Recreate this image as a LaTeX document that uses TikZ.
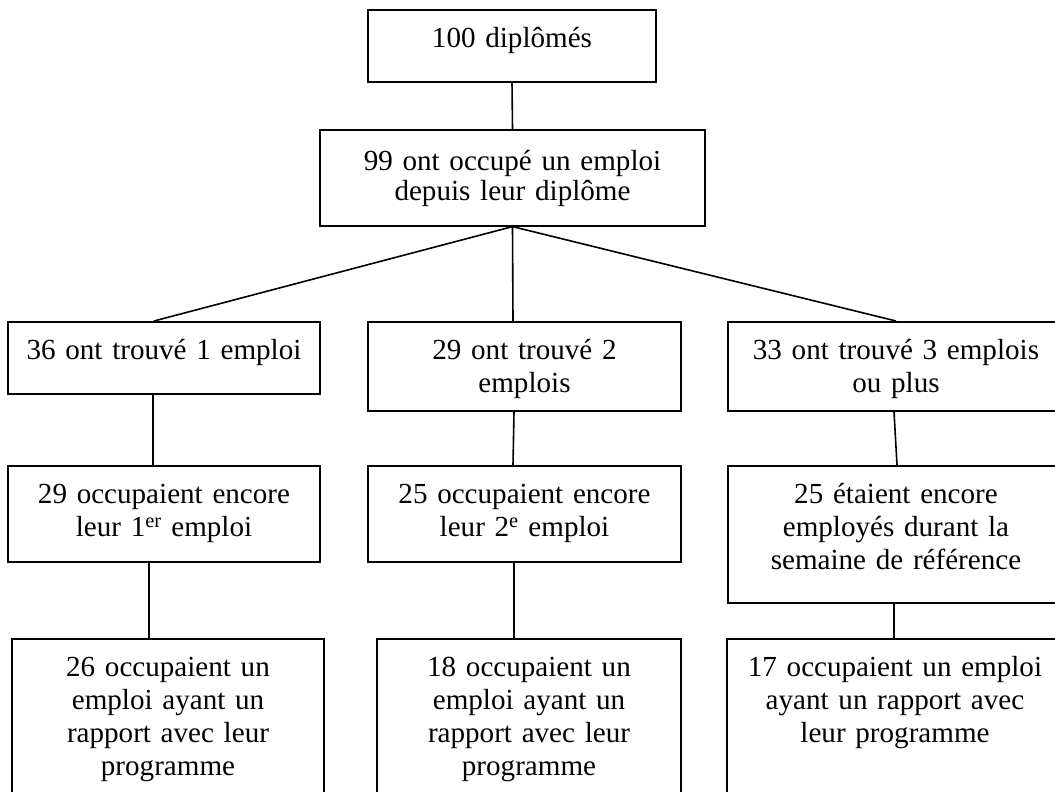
\documentclass[tikz,border=0pt]{standalone}
\usepackage{fontspec}
\setmainfont{Liberation Serif}
\usepackage{tikz}

\newcommand{\boxfont}{\fontsize{29.1}{33}\selectfont}

\begin{document}
\begin{tikzpicture}[x=1pt, y=-1pt, line width=1.6pt,
    box/.style={draw, anchor=north, inner xsep=0pt, inner ysep=0pt, align=center,
      font=\boxfont, text height=38pt}]
	\useasboundingbox (0,0) rectangle (1055,792);
	% top
	\node (dipl) [box, text width=288pt, text depth=34pt] at (512,9) {100 diplômés};
	\node (occ) [box, text width=385pt, text height=41pt, text depth=55pt,
	  font=\fontsize{29.1}{30}\selectfont] at (512.5,129) {99 ont occupé un emploi\\depuis leur diplôme};
	% number of jobs
	\node (one) [box, text width=312pt, text depth=34pt] at (164,321) {36 ont trouvé 1 emploi};
	\node (two) [box, text width=313pt, text depth=51pt] at (524.5,321) {29 ont trouvé 2\\emplois};
	\node (three) [box, text width=336pt, text depth=51pt] at (896,321) {33 ont trouvé 3 emplois\\ou plus};
	% still employed
	\node (oneb) [box, text width=312pt, text depth=58pt] at (164,465)
	  {29 occupaient encore\\leur 1\textsuperscript{er} emploi};
	\node (twob) [box, text width=313pt, text depth=58pt] at (524.5,465)
	  {25 occupaient encore\\leur 2\textsuperscript{e} emploi};
	\node (threeb) [box, text width=336pt, text depth=99pt] at (896,465)
	  {25 étaient encore\\employés durant la\\semaine de référence};
	% related to the programme
	\node (onec) [box, text width=312pt, text depth=132pt] at (168,638)
	  {26 occupaient un\\emploi ayant un\\rapport avec leur\\programme};
	\node (twoc) [box, text width=304pt, text depth=132pt] at (529,638)
	  {18 occupaient un\\emploi ayant un\\rapport avec leur\\programme};
	\node (threec) [box, text width=336pt, text depth=132pt] at (895,638)
	  {17 occupaient un emploi\\ayant un rapport avec\\leur programme};

	\draw (dipl.south) -- (occ.north);
	\draw (occ.south) -- ([xshift=-10pt]one.north);
	\draw (occ.south) -- ([xshift=-11.5pt]two.north);
	\draw (occ.south) -- (three.north);
	\draw ([xshift=-11pt]one.south) -- ([xshift=-11pt]oneb.north);
	\draw ([xshift=-10.5pt]two.south) -- ([xshift=-11.5pt]twob.north);
	\draw ([xshift=-2pt]three.south) -- ([xshift=1pt]threeb.north);
	\draw ([xshift=-15pt]oneb.south) -- ([xshift=-19pt]onec.north);
	\draw ([xshift=-10.5pt]twob.south) -- ([xshift=-15pt]twoc.north);
	\draw ([xshift=-2pt]threeb.south) -- ([xshift=-1pt]threec.north);
\end{tikzpicture}
\end{document}
